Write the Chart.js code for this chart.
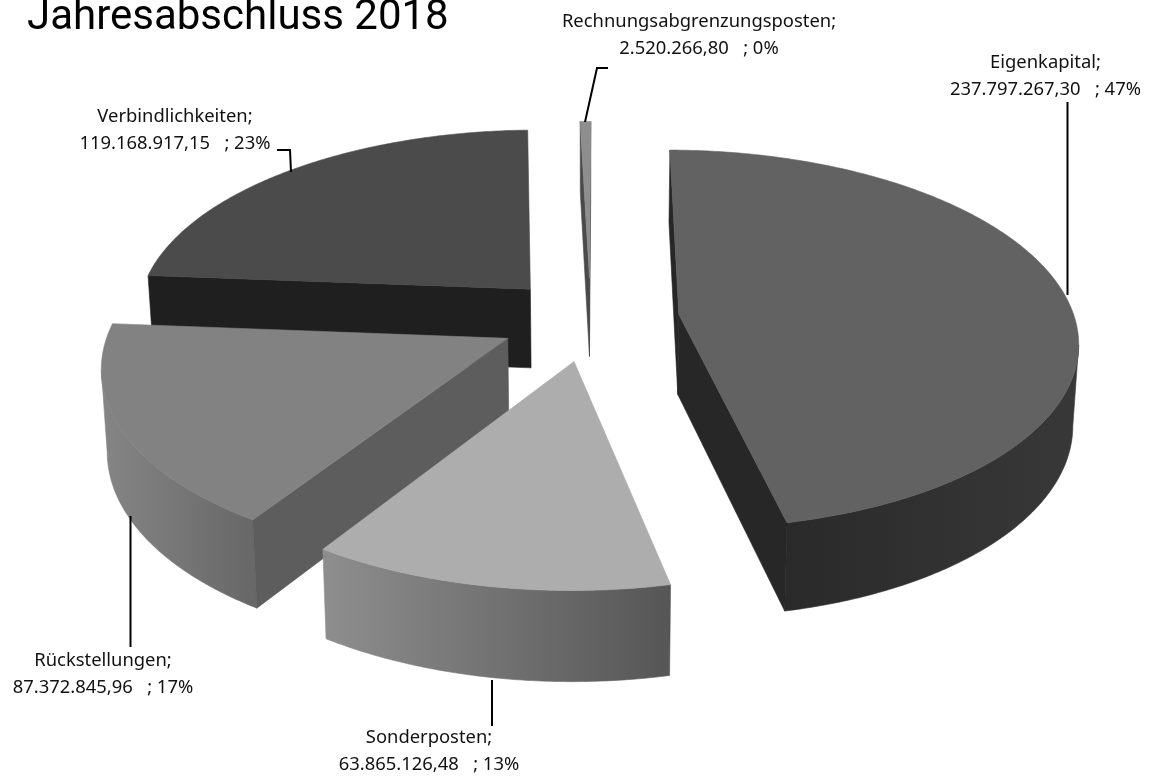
<!DOCTYPE html>
<html lang="de">
<head>
    <meta charset="UTF-8">
    <title>Jahresabschluss 2018</title>
    <script src="https://cdn.jsdelivr.net/npm/chart.js"></script>
    <style>
        html, body { margin: 0; padding: 0; background: #fff; overflow: hidden; }
        canvas { display: block; }
    </style>
</head>
<body>
    <canvas id="pie" width="1149" height="778"></canvas>
    <script>
        const categories = ['Eigenkapital', 'Sonderposten', 'Rückstellungen', 'Verbindlichkeiten', 'Rechnungsabgrenzungsposten'];
        const values = [237797267.30, 63865126.48, 87372845.96, 119168917.15, 2520266.80];
        const percentLabels = ['47%', '13%', '17%', '23%', '0%'];

        const explode = [22.5, 22.5, 23, 22.5, 22.5];
        const topColors = ['#626262', '#adadad', '#828282', '#4b4b4b', '#8e8e8e'];
        const cutColors = ['#272727', '#6a6a6a', '#5d5d5d', '#1f1f1f', '#4a4a4a'];
        const rimLeft = ['#2a2a2a', '#8e8e8e', '#858585', '#2a2a2a', '#666666'];
        const rimRight = ['#383838', '#565656', '#686868', '#2a2a2a', '#666666'];

        // label anchors: centre x, first line y
        const labelX = [1045.5, 429, 103, 175, 699];
        const labelY = [63, 738, 661, 117, 22];
        const leaders = [
            [[1067.5, 102], [1067.5, 295]],
            [[492, 680], [492, 726]],
            [[130.5, 516], [130.5, 647]],
            [[277, 150], [290, 150], [291, 172]],
            [[608, 68], [597, 68], [585, 122]]
        ];

        // ground plane -> screen, unit circle seen from the front with perspective
        const view = { x0: 590.5, y0: 319, fx: 396, fy: 187, persp: 0.13, depth: 80, depthPersp: 0.1, squeeze: 0.012 };

        function project(u, v, z) {
            const w = 1 - view.persp * v;
            let x = view.x0 + view.fx * u / w;
            let y = view.y0 + view.fy * v / w;
            if (z) {
                y += view.depth / (1 - view.depthPersp * v);
                x -= (x - view.x0) * view.squeeze;
            }
            return [x, y];
        }

        function polygon(ctx, pts, fill) {
            ctx.beginPath();
            pts.forEach((p, i) => i ? ctx.lineTo(p[0], p[1]) : ctx.moveTo(p[0], p[1]));
            ctx.closePath();
            ctx.fillStyle = fill;
            ctx.strokeStyle = fill;
            ctx.lineWidth = 0.6;
            ctx.fill();
            ctx.stroke();
        }

        function drawSlice(ctx, el, i) {
            const { startAngle, endAngle } = el;
            const mid = (startAngle + endAngle) / 2;
            const d = el.options.offset / 100;
            const ou = Math.cos(mid) * d, ov = Math.sin(mid) * d;
            const at = (a, z) => project(ou + Math.cos(a), ov + Math.sin(a), z);
            const apex = z => project(ou, ov, z);

            const steps = Math.max(2, Math.ceil((endAngle - startAngle) / 0.01));
            const angles = [];
            for (let s = 0; s <= steps; s++) angles.push(startAngle + (endAngle - startAngle) * s / steps);

            // outer wall, only the run that faces the viewer
            const rim = angles.filter((a, s) => {
                const cur = at(a);
                const prev = s ? at(angles[s - 1]) : null;
                const next = s < steps ? at(angles[s + 1]) : null;
                return (next && next[0] < cur[0]) || (prev && cur[0] < prev[0]);
            });
            if (rim.length > 1) {
                const upper = rim.map(a => at(a));
                const lower = rim.map(a => at(a, 1)).reverse();
                const xs = upper.map(p => p[0]);
                const grad = ctx.createLinearGradient(Math.min(...xs), 0, Math.max(...xs), 0);
                grad.addColorStop(0, rimLeft[i]);
                grad.addColorStop(1, rimRight[i]);
                polygon(ctx, upper.concat(lower), grad);
            }

            // the two cut faces
            const startFace = [apex(), at(startAngle), at(startAngle, 1), apex(1)];
            const endFace = [at(endAngle), apex(), apex(1), at(endAngle, 1)];
            if (startFace[1][0] < startFace[0][0]) polygon(ctx, startFace, cutColors[i]);
            if (endFace[1][0] < endFace[0][0]) polygon(ctx, endFace, cutColors[i]);

            // top face
            polygon(ctx, [apex()].concat(angles.map(a => at(a))), topColors[i]);
        }

        const pie3d = {
            id: 'pie3d',
            beforeDatasetDraw(chart, args) {
                const ctx = chart.ctx;
                const arcs = chart.getDatasetMeta(args.index).data;
                const order = arcs.map((el, i) => i).sort((a, b) => {
                    const mid = el => Math.sin((el.startAngle + el.endAngle) / 2);
                    return mid(arcs[a]) - mid(arcs[b]);
                });
                order.forEach(i => drawSlice(ctx, arcs[i], i));
                return false;
            },
            afterDraw(chart) {
                const ctx = chart.ctx;
                ctx.save();
                ctx.strokeStyle = '#000';
                ctx.lineWidth = 2;
                leaders.forEach(line => {
                    ctx.beginPath();
                    line.forEach((p, i) => i ? ctx.lineTo(p[0], p[1]) : ctx.moveTo(p[0], p[1]));
                    ctx.stroke();
                });

                ctx.fillStyle = '#111';
                ctx.textAlign = 'center';
                ctx.textBaseline = 'middle';
                ctx.font = '18.4px "Noto Sans", sans-serif';
                const nf = new Intl.NumberFormat('de-DE', { minimumFractionDigits: 2, maximumFractionDigits: 2 });
                categories.forEach((name, i) => {
                    ctx.fillText(name + ';', labelX[i], labelY[i]);
                    ctx.fillText(nf.format(values[i]) + '\u00a0\u00a0 ; ' + percentLabels[i], labelX[i], labelY[i] + 27);
                });

                ctx.textAlign = 'left';
                ctx.textBaseline = 'alphabetic';
                ctx.fillStyle = '#000';
                ctx.font = '42px Roboto, sans-serif';
                ctx.fillText('Jahresabschluss 2018', 27, 29);
                ctx.restore();
            }
        };

        new Chart(document.getElementById('pie'), {
            type: 'pie',
            data: {
                labels: categories,
                datasets: [{
                    data: values,
                    backgroundColor: topColors,
                    offset: explode,
                    borderWidth: 0
                }]
            },
            options: {
                responsive: false,
                animation: false,
                rotation: 0.2,
                plugins: { legend: { display: false }, tooltip: { enabled: false } }
            },
            plugins: [pie3d]
        });
    </script>
</body>
</html>
